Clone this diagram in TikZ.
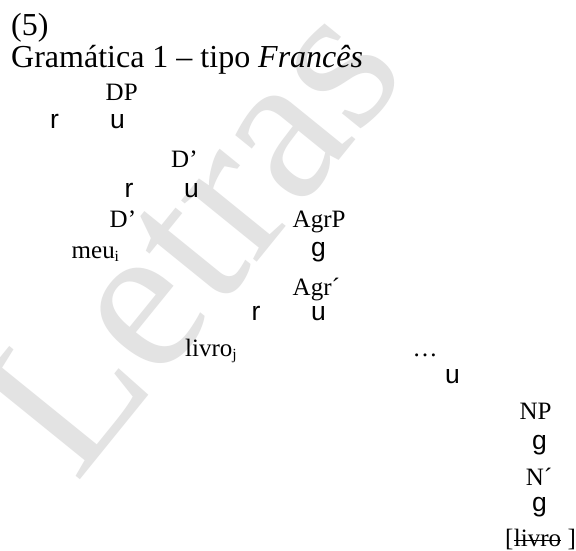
\documentclass[tikz,border=0pt]{standalone}
\usepackage{fontspec}
\setmainfont{Liberation Serif}
\newfontfamily\branchfont{Liberation Sans}
% lowered, smaller index letter
\newcommand{\idx}[1]{\raisebox{-3.5pt}{\fontsize{15.5}{15.5}\selectfont #1}}
\begin{document}
\begin{tikzpicture}[x=1pt,y=-1pt,
  lbl/.style={inner sep=0pt, anchor=base west, font=\fontsize{25}{29}\selectfont},
  branch/.style={inner sep=0pt, anchor=base west, font=\branchfont\fontsize{26.5}{29}\selectfont},
  heading/.style={inner sep=0pt, anchor=base west, font=\fontsize{32}{36}\selectfont},
  strike/.style={line width=1.3pt},
  wmark/.style={inner sep=0pt, anchor=center, text=black!11, font=\fontsize{212}{212}\selectfont, rotate=51}]
\useasboundingbox (0,0) rectangle (576,551);
\fill[white] (0,0) rectangle (576,551);

% background watermark
\node[wmark] (wm) at (190,236) {Letras};

% heading
\node[heading] (num) at (11,35.5) {(5)};
\node[heading] (ttl) at (11,67.5) {Gramática 1 – tipo \textit{Francês}};

% DP
\node[lbl] (dp) at (105.5,101) {DP};
\node[branch] (dpl) at (50,128.5) {r};
\node[branch] (dpr) at (110,128.5) {u};

% upper D'
\node[lbl] (d1) at (171,167) {D’};
\node[branch] (d1l) at (124.4,197) {r};
\node[branch] (d1r) at (184,197) {u};

% lower D' and AgrP
\node[lbl] (d2) at (109.5,227) {D’};
\node[lbl] (agrp) at (292.5,227.5) {AgrP};
\node[lbl] (meu) at (71.5,258.3) {meu\idx{i}};
\node[branch] (agrpg) at (311,256.5) {g};

% Agr'
\node[lbl] (agrb) at (292.5,295) {Agr´};
\node[branch] (agrl) at (251.4,320) {r};
\node[branch] (agrr) at (311,320) {u};

% livro and the rest
\node[lbl] (livroj) at (185,356) {livro\idx{j}};
\node[lbl] (dots) at (412.5,356) {…};
\node[branch] (dotsr) at (445,383.3) {u};

% NP
\node[lbl] (np) at (519.3,419.5) {NP};
\node[branch] (npg) at (532,449) {g};
\node[lbl] (nb) at (525.7,485) {N´};
\node[branch] (nbg) at (532,511.5) {g};

% struck-out copy in brackets
\node[lbl] (lb) at (505,546) {[};
\node[lbl] (lv) at (lb.base east) {livro};
\node[lbl] (rb) at ([xshift=6.2pt]lv.base east) {]};
\draw[strike] ([yshift=5.5pt]lv.base west) -- ([yshift=5.5pt]lv.base east);
\end{tikzpicture}
\end{document}
